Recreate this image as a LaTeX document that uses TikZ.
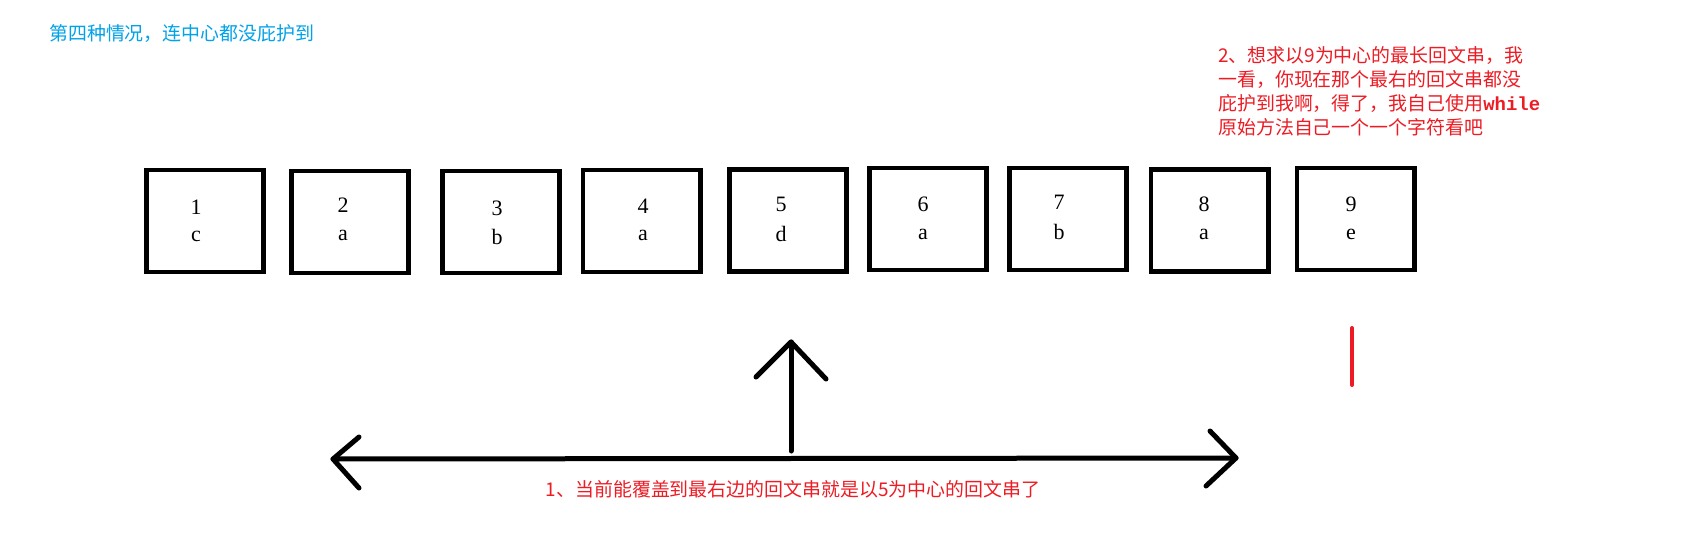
\documentclass[tikz,border=0pt]{standalone}
\usepackage{fontspec}
\setmainfont{Liberation Serif}
\newfontfamily\cjk{Noto Sans CJK SC}
\newfontfamily\monob{Liberation Mono}
\definecolor{pred}{HTML}{ED1C24}
\definecolor{pblue}{HTML}{00A2E8}
\begin{document}
\begin{tikzpicture}[x=0.75pt,y=-0.75pt,
  cell/.style={draw=black,line width=3.5pt,minimum width=88pt,minimum height=76.7pt,inner sep=0pt},
  lab/.style={font=\fontsize{16.5pt}{18pt}\selectfont,inner sep=0pt,anchor=base},
  arrowline/.style={line width=3.75pt,line cap=round,line join=round},
  cjktext/.style={inner sep=0pt,anchor=base west,font=\cjk\fontsize{14.2pt}{18pt}\selectfont},
  redmark/.style={draw=pred,line width=3pt,line cap=round}]
\useasboundingbox (0,0) rectangle (1699,557);
\fill[white] (0,0) rectangle (1699,557);

% title
\node[cjktext,text=pblue] (title) at (49,40) {第四种情况，连中心都没庇护到};

% cells
\node[cell] (b1) at (205,221) {};
\node[cell] (b2) at (350,222) {};
\node[cell] (b3) at (501,222) {};
\node[cell] (b4) at (641.5,221) {};
\node[cell] (b5) at (788,220.5) {};
\node[cell] (b6) at (928,219) {};
\node[cell] (b7) at (1068,219) {};
\node[cell] (b8) at (1209.5,220.5) {};
\node[cell] (b9) at (1355.5,219) {};

% indices
\node[lab] (n1) at (196,214) {1};
\node[lab] (n2) at (343,212) {2};
\node[lab] (n3) at (497,215) {3};
\node[lab] (n4) at (643,213) {4};
\node[lab] (n5) at (781,211) {5};
\node[lab] (n6) at (923,211) {6};
\node[lab] (n7) at (1059,209) {7};
\node[lab] (n8) at (1204,211) {8};
\node[lab] (n9) at (1351,211) {9};

% characters
\node[lab] (c1) at (196,241.5) {c};
\node[lab] (c2) at (343,240.5) {a};
\node[lab] (c3) at (497,244) {b};
\node[lab] (c4) at (643,240.5) {a};
\node[lab] (c5) at (781,241) {d};
\node[lab] (c6) at (923,239.5) {a};
\node[lab] (c7) at (1059,239) {b};
\node[lab] (c8) at (1204,239.5) {a};
\node[lab] (c9) at (1351,239.5) {e};

% right note
\node[cjktext,text=pred] (r1) at (1218,62) {2、想求以9为中心的最长回文串，我};
\node[cjktext,text=pred] (r2) at (1218,86) {一看，你现在那个最右的回文串都没};
\node[cjktext,text=pred] (r3) at (1218,110) {庇护到我啊，得了，我自己使用{\monob\bfseries while}};
\node[cjktext,text=pred] (r4) at (1218,134) {原始方法自己一个一个字符看吧};

% bottom note
\node[cjktext,anchor=base,text=pred] (note1) at (793,496)
  {1、当前能覆盖到最右边的回文串就是以5为中心的回文串了};

% double arrow (range of the palindrome)
\coordinate (hL) at (333,459);
\coordinate (hR) at (1236,458);
\coordinate (hLu) at (359,437);
\coordinate (hLd) at (359,488);
\coordinate (hRu) at (1210,431);
\coordinate (hRd) at (1206,486);
\draw[arrowline] (hL) -- (hR);
\draw[arrowline] (hLu) -- (hL) -- (hLd);
\draw[arrowline] (hRu) -- (hR) -- (hRd);

% center arrow
\coordinate (vT) at (791,342);
\coordinate (vB) at (791,451);
\coordinate (vTl) at (756,377);
\coordinate (vTr) at (826,379);
\draw[arrowline] (vB) -- (vT);
\draw[arrowline] (vTl) -- (vT) -- (vTr);

% red mark under 9
\coordinate (mT) at (1352,328);
\coordinate (mB) at (1352,385);
\draw[redmark] (mT) -- (mB);
\end{tikzpicture}
\end{document}
